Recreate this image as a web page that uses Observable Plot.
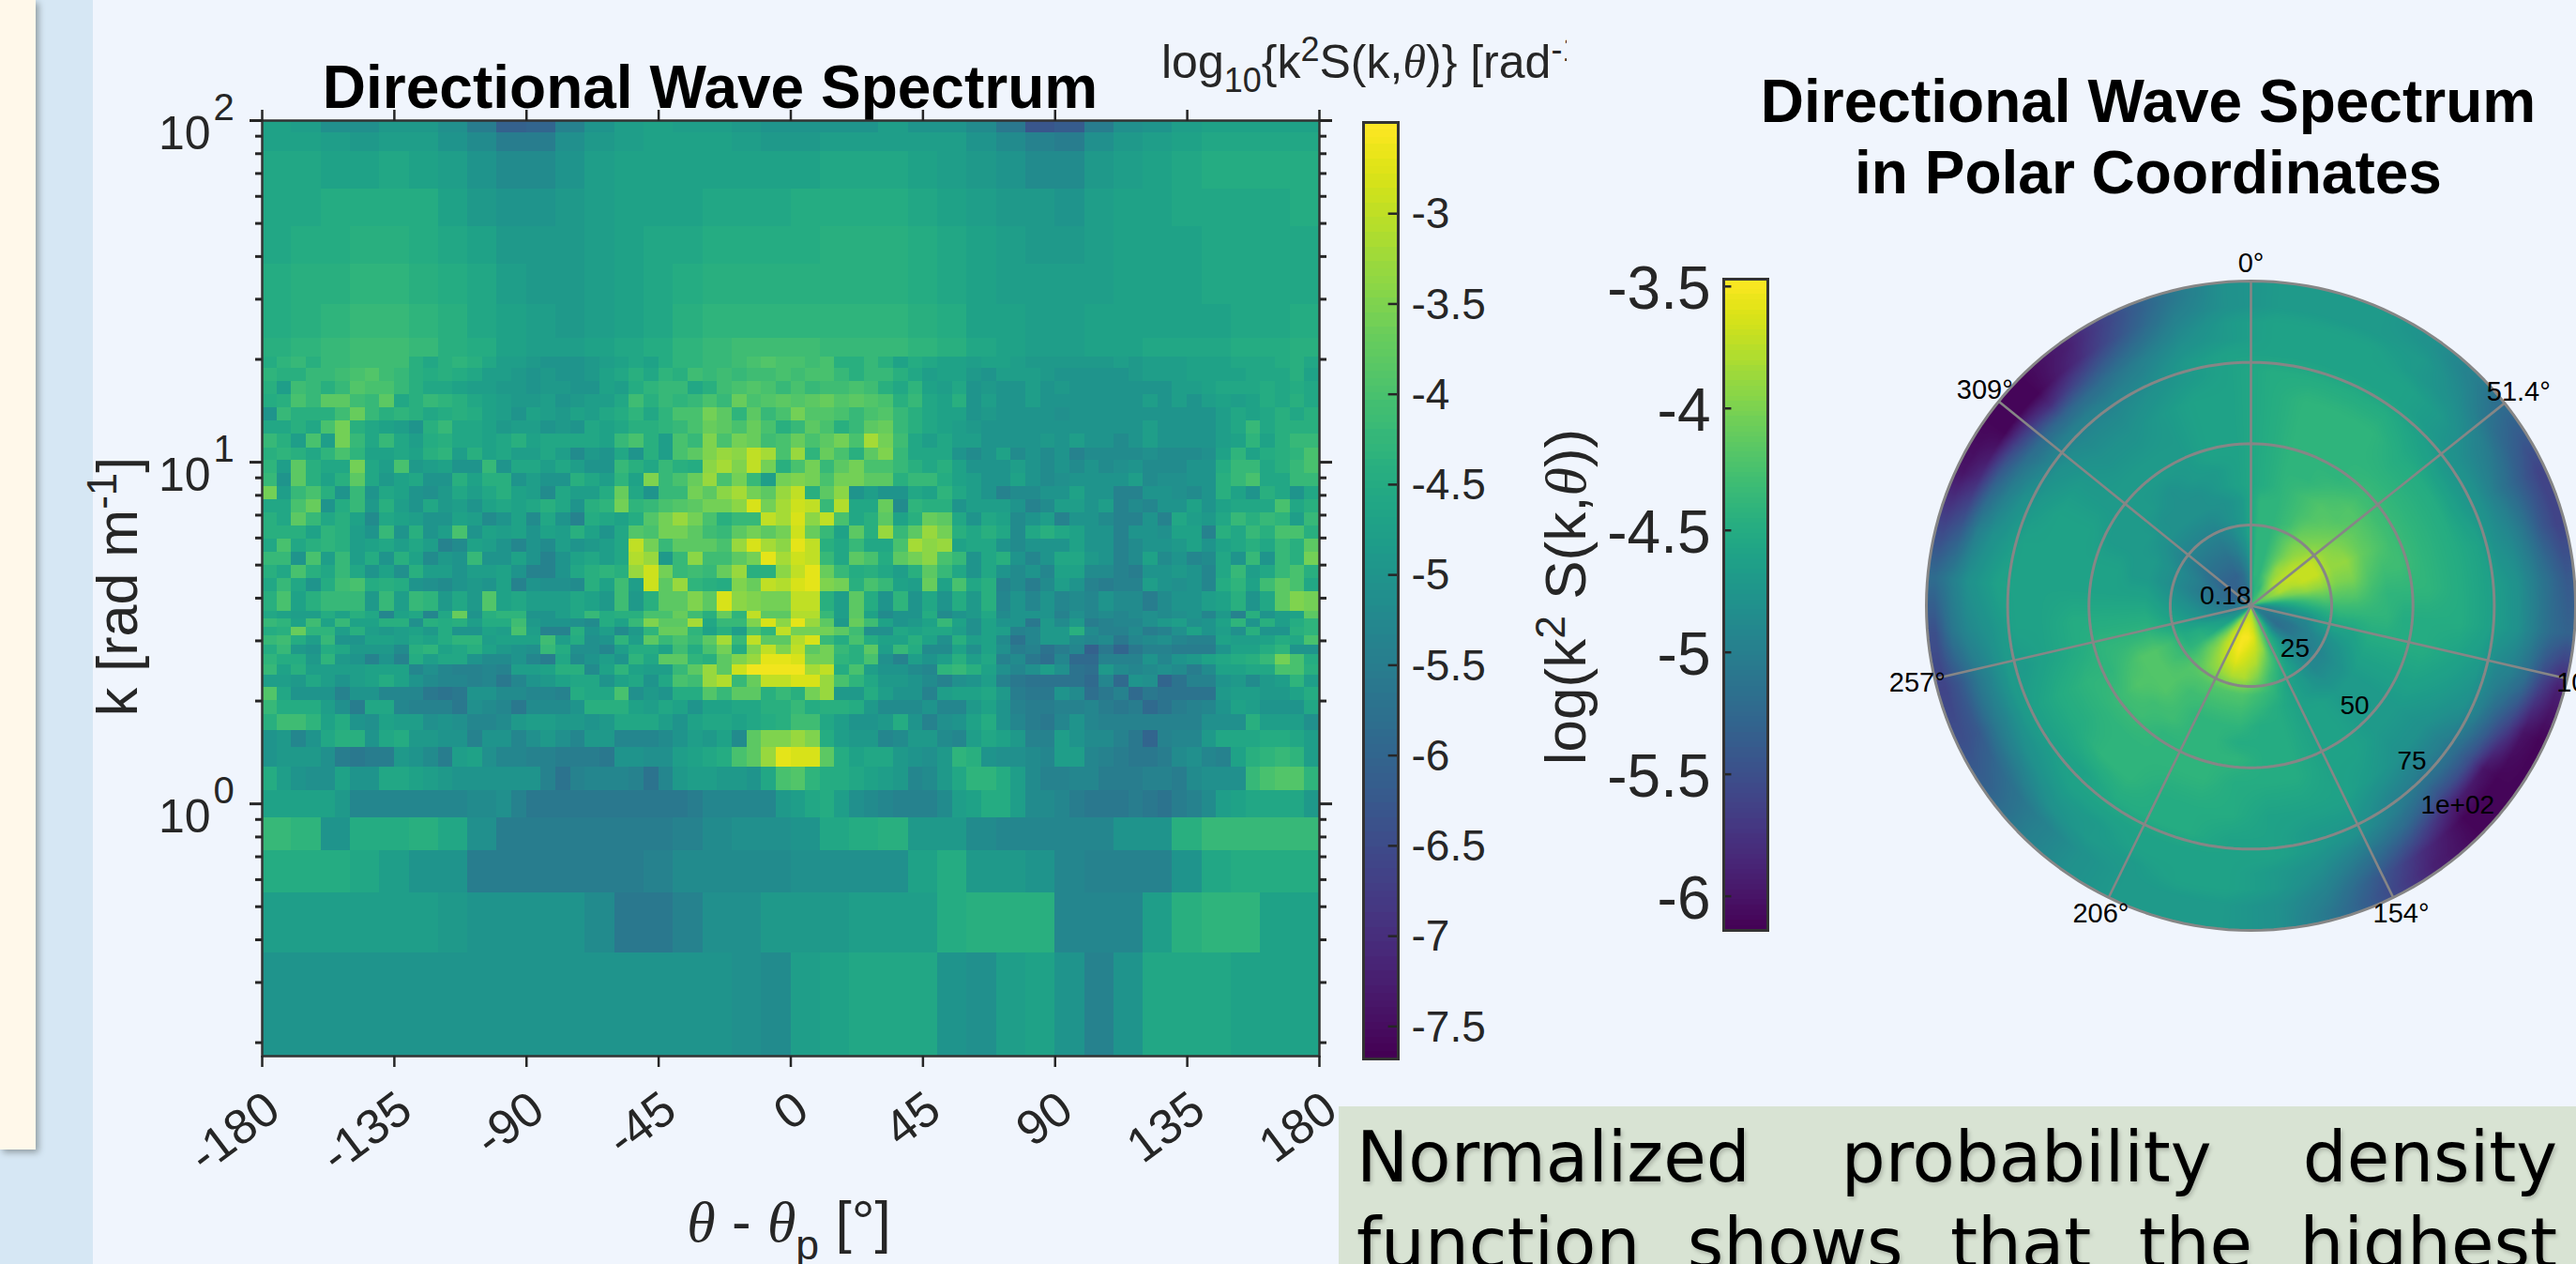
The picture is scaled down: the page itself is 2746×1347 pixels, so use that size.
<!DOCTYPE html>
<html><head><meta charset="utf-8">
<script src="https://cdn.jsdelivr.net/npm/d3@7"></script>
<script src="https://cdn.jsdelivr.net/npm/@observablehq/plot@0.6"></script>
<style>
html,body{margin:0;padding:0;background:#F0F5FD}
#root{position:relative;width:2746px;height:1347px;overflow:hidden;background:#F0F5FD;font-family:"Liberation Sans",Arial,sans-serif;color:#262626}
#root>*{position:absolute}
#root svg{max-width:none}
.t{white-space:nowrap;line-height:1}
.b{font-weight:bold;color:#000;font-size:64px;text-align:center}
.i{font-family:"Liberation Serif",serif;font-style:italic}
sup,sub{font-size:72%;line-height:0}
sub{vertical-align:-0.42em}
#note div{position:absolute;left:19px;width:1280px;text-align:justify;text-align-last:justify;font:74px/92px "DejaVu Sans",sans-serif;color:#000;text-shadow:2px 3px 4px rgba(0,0,0,.18);white-space:normal}
</style></head><body><div id="root">
<div style="left:0;top:0;width:99px;height:1347px;background:#D6E7F4"></div>
<div style="left:0;top:0;width:38px;height:1225px;background:#FFF8EA;box-shadow:3px 3px 7px #8f9ba0"></div>
<div class="t b" style="left:207px;top:61px;width:1100px">Directional Wave Spectrum</div>
<div class="t" style="left:1238px;top:34px;width:432px;height:92px;overflow:hidden;font-size:50px;line-height:64px">log<sub>10</sub>{k<sup>2</sup>S(k,<span class="i">θ</span>)} [rad<sup>-1</sup>]</div>
<div class="t" id="kl" style="left:125px;top:625px;font-size:61px;transform:translate(-50%,-50%) rotate(-90deg)">k [rad m<sup>-1</sup>]</div>
<div class="t" id="tl" style="left:841px;top:1271px;font-size:62px;transform:translateX(-50%)"><span class="i">θ</span> - <span class="i">θ</span><sub>p</sub> [°]</div>
<div class="t" id="ll" style="left:1669px;top:636px;font-size:62px;transform:translate(-50%,-50%) rotate(-90deg)">log(k<sup>2</sup> S(k,<span class="i">θ</span>))</div>
<div class="t b" style="left:1740px;top:76px;width:1100px">Directional Wave Spectrum</div>
<div class="t b" style="left:1740px;top:152px;width:1100px">in Polar Coordinates</div>
<div id="note" style="left:1427px;top:1179px;width:1319px;height:168px;background:#D8E3D3;overflow:hidden">
<div style="top:8px">Normalized probability density</div>
<div style="top:100px">function shows that the highest</div>
</div>
</div>
<script>
const thetaTicks=[-180,-135,-90,-45,0,45,90,135,180];
const kMajor=[1,10,100];
const kExponent=[0,1,2];
const kMinor=[0.2,0.3,0.4,0.5,0.6,0.7,0.8,0.9,2,3,4,5,6,7,8,9,20,30,40,50,60,70,80,90];
const heatDomain=[-7.68,-2.495];
const heatBarTicks=[-3,-3.5,-4,-4.5,-5,-5.5,-6,-6.5,-7,-7.5];
const polarDomain=[-6.14,-3.47];
const polarBarTicks=[-3.5,-4,-4.5,-5,-5.5,-6];
// k edges of the rows below (rad/m)
const kEdges=[0.1826,0.365,0.548,0.73,0.913,1.096,1.278,1.461,1.643,1.826,2.009,2.191,2.374,2.556,2.739,2.922,3.104,3.287,3.47,3.652,4.18,4.56,4.98,5.44,5.95,6.5,7.1,7.76,8.5,9.3,10.1,11,12.1,13.2,14.4,15.8,17.2,18.8,20.3,23,29,38,49,63,81,92,100];
// log10 spectrum in tenths, negated (47 = -4.7); each row spans -180..180
const heatRows=[
[50,50,50,50,50,50,50,50,50,50,50,50,50,50,50,50,51,52,48,47,46,46,46,50,51,48,47,50,54,50,46,46,46,47,47,47],
[48,48,48,48,48,48,49,50,50,50,50,52,56,56,54,51,51,49,49,49,48,48,48,45,44,44,44,53,53,53,48,44,43,43,47,47],
[45,45,45,46,48,50,50,55,55,55,55,55,55,54,52,52,52,52,51,51,51,51,47,45,49,49,50,53,54,54,54,50,46,45,45,45],
[42,43,50,45,45,44,46,51,55,55,55,55,55,55,54,52,51,51,50,46,45,44,49,49,52,53,53,53,53,50,50,44,42,42,42,42],
[47,47,47,47,47,49,53,53,53,53,53,53,53,53,52,52,51,54,56,56,56,56,56,56,56,56,56,56,56,55,53,53,53,53,53,49,48,46,45,48,51,52,53,54,54,54,52,48,47,45,45,48,52,52,53,55,56,56,56,55,56,57,55,54,52,48,47,46,46,46,46,49],
[45,48,50,51,51,47,50,50,46,46,47,48,49,50,50,50,50,50,50,54,57,54,53,53,53,54,57,53,49,48,48,49,49,50,46,40,39,43,45,45,46,47,48,49,53,52,49,46,43,43,45,48,52,54,54,53,53,55,55,55,54,54,55,52,51,51,51,42,40,39,39,43],
[50,49,49,49,51,55,56,55,55,49,50,52,55,48,47,51,53,53,54,54,55,55,55,56,50,50,51,51,48,47,46,45,40,38,33,27,28,28,38,45,47,46,46,49,50,51,49,43,44,50,51,51,52,53,48,48,53,54,55,56,56,55,52,51,53,54,47,44,43,42,43,48],
[50,49,53,50,46,44,44,50,46,45,49,49,50,50,54,50,50,53,51,49,51,53,49,49,53,53,53,52,50,48,49,47,52,38,35,35,33,35,45,48,49,49,53,52,49,49,52,53,48,46,47,49,54,54,48,50,52,52,54,56,60,54,53,53,49,46,46,46,45,45,46,48],
[44,41,41,43,47,45,50,51,47,48,48,51,50,51,53,53,52,49,48,48,49,49,50,49,46,46,46,48,50,47,46,46,47,46,45,44,41,41,46,48,50,50,49,45,50,54,51,50,47,45,50,53,55,56,53,50,53,54,54,54,54,54,54,54,51,51,51,44,48,48,48,51],
[42,45,45,45,48,51,55,46,46,53,54,54,54,56,51,52,53,56,52,52,52,50,44,44,44,47,48,46,47,50,47,47,46,46,44,44,42,45,44,44,45,49,52,52,52,50,53,53,49,47,50,54,55,55,54,54,53,55,56,55,59,57,55,54,53,50,47,48,50,50,50,46],
[39,46,50,50,50,54,50,50,53,53,53,56,57,56,50,50,52,52,53,53,54,45,46,46,40,51,49,50,45,45,39,42,38,38,44,42,44,36,33,49,49,45,48,50,50,54,48,47,47,46,49,55,56,56,50,52,58,56,54,59,56,57,57,57,57,49,48,48,49,49,47,45],
[48,48,49,46,48,50,48,47,45,47,50,52,53,53,54,53,56,53,50,49,47,46,46,50,47,46,50,46,40,41,33,31,42,37,30,30,28,28,33,40,43,46,49,49,50,52,54,51,50,48,54,56,57,57,57,57,59,53,59,50,51,60,57,54,54,50,49,52,49,48,43,48],
[42,47,44,48,48,48,48,47,47,47,53,51,53,54,54,53,54,48,48,47,44,44,52,47,43,47,48,48,42,38,33,38,29,26,26,26,26,32,30,45,40,48,50,50,52,53,43,42,44,47,51,53,51,48,51,57,58,49,52,53,52,51,52,55,52,47,47,46,46,40,40,44],
[43,45,45,49,43,49,50,54,50,54,45,48,46,46,50,52,52,50,53,55,46,52,50,48,50,43,46,38,38,43,44,38,35,33,27,27,28,36,36,43,44,40,51,54,48,50,48,44,48,46,54,52,56,58,53,59,59,54,54,54,50,53,50,49,47,46,45,44,42,36,40,45],
[45,42,49,50,45,46,49,49,49,52,44,43,47,46,44,47,49,50,51,42,45,51,51,53,48,45,45,47,41,45,40,36,45,35,30,35,30,38,36,42,44,38,48,42,45,52,52,47,51,47,51,55,54,57,55,53,61,56,60,56,54,54,55,55,55,50,47,47,45,43,50,50],
[42,41,45,48,42,50,50,47,47,48,46,47,45,43,43,48,47,47,47,41,48,45,51,50,43,48,38,42,40,42,38,32,42,30,38,38,31,28,42,45,40,45,47,47,44,47,51,44,48,47,52,57,53,49,49,52,53,52,56,53,52,51,53,54,54,47,48,48,47,45,46,40],
[45,44,37,43,43,48,44,48,49,48,47,49,45,50,50,47,48,40,48,54,54,44,50,48,52,49,43,37,37,43,47,44,48,40,43,30,36,36,36,38,41,51,51,46,47,46,46,48,51,47,48,54,53,49,49,44,52,54,54,52,55,54,51,47,50,48,51,44,50,50,44,43],
[42,43,47,41,47,42,47,47,44,44,51,44,45,44,48,45,45,41,49,50,50,51,52,45,47,42,35,38,38,32,46,42,42,35,28,34,27,33,38,49,37,41,47,50,49,47,42,47,51,47,50,50,56,49,52,49,55,54,53,53,51,49,48,51,50,47,43,50,44,48,45,43],
[46,47,48,48,45,47,44,46,53,47,46,53,46,37,50,44,43,43,50,50,48,46,42,45,44,44,40,40,37,41,44,37,43,30,38,38,31,31,42,48,38,47,52,50,50,45,52,50,49,46,52,50,50,50,54,51,53,52,53,52,51,52,51,50,53,49,54,44,50,48,47,38],
[44,40,47,44,42,42,42,49,42,48,42,43,49,46,49,39,47,46,48,48,48,46,47,49,41,49,44,38,38,35,38,28,34,35,36,36,30,30,44,48,38,45,50,43,50,46,50,45,49,44,53,50,53,50,53,52,53,50,52,52,55,52,50,50,48,47,44,50,46,38,35,36],
[46,42,46,50,45,41,40,45,44,45,50,51,52,50,49,50,47,54,50,51,51,52,44,47,41,48,29,38,33,43,44,45,35,37,30,31,28,27,35,36,44,40,42,47,48,37,47,40,46,44,54,52,55,52,48,50,54,55,54,54,48,50,51,50,53,45,43,47,41,38,40,46],
[44,46,40,44,46,42,46,50,47,51,44,48,48,50,48,48,47,50,54,54,50,46,44,43,44,33,29,36,42,41,42,37,33,44,44,34,30,27,37,42,45,44,46,48,44,38,42,46,50,46,50,52,50,53,47,47,52,52,54,55,50,50,49,50,53,46,42,48,46,42,40,44],
[42,42,50,40,48,42,48,45,50,44,47,52,49,50,42,50,50,47,50,54,50,47,46,48,46,31,33,49,42,34,41,41,38,36,27,32,29,30,42,46,38,40,45,38,36,34,40,42,50,46,44,50,53,50,46,46,49,50,54,52,47,52,50,53,52,46,50,42,50,42,44,36],
[46,40,46,44,43,44,48,47,46,48,46,48,54,52,47,48,50,53,50,52,48,50,49,48,46,30,36,42,38,38,38,40,33,28,32,34,27,30,44,46,42,46,46,40,32,34,33,47,46,46,50,52,50,50,50,47,50,50,54,52,50,50,49,47,50,47,46,44,46,42,44,38],
[44,44,44,47,43,44,48,50,42,50,44,50,48,40,50,47,48,47,50,47,48,44,47,50,46,39,40,36,36,38,41,42,38,36,38,36,29,37,42,47,38,44,33,42,38,33,36,44,46,44,46,52,46,44,46,47,50,50,54,50,50,51,47,47,54,44,46,42,44,40,40,44],
[44,46,38,42,46,44,47,52,46,47,48,50,50,47,48,52,50,47,52,46,50,54,45,46,47,45,39,36,33,36,40,44,42,42,30,32,28,34,30,40,46,44,38,47,44,37,38,46,50,46,47,52,50,48,54,50,50,52,54,54,50,54,46,48,49,46,42,44,42,43,48,42],
[46,46,40,37,50,45,42,49,44,48,50,46,49,48,50,47,46,47,46,44,46,50,44,43,36,43,42,40,39,38,36,36,34,28,36,32,29,30,42,31,46,46,37,52,43,44,44,50,48,48,48,50,54,52,48,48,50,48,54,52,53,50,50,47,50,47,46,46,46,40,46,44],
[36,48,42,40,44,50,42,50,46,47,50,51,49,46,48,46,44,47,48,52,46,48,48,45,37,46,50,42,42,36,38,34,32,36,38,33,30,44,38,34,50,48,50,50,46,47,43,46,48,50,54,52,52,50,50,47,50,50,54,54,50,50,51,52,50,44,47,50,44,46,50,46],
[42,50,38,44,47,44,38,46,49,47,46,50,50,44,47,44,44,50,48,50,50,44,46,48,43,47,35,42,40,37,33,40,36,42,48,36,35,36,40,36,36,38,38,44,42,42,45,47,48,50,50,47,50,52,51,50,50,50,50,48,52,51,51,50,50,44,42,40,46,46,42,42],
[43,48,38,44,46,46,36,46,48,40,49,48,47,50,50,42,50,46,46,48,46,48,50,50,42,44,46,42,44,45,34,32,35,30,36,44,40,36,42,38,36,40,40,42,44,46,44,47,50,50,50,48,50,52,50,52,50,52,51,50,52,52,52,50,50,45,42,42,46,44,42,40],
[44,43,44,46,43,40,43,47,47,46,47,44,43,48,44,47,46,48,48,46,48,52,49,50,46,50,44,48,40,38,35,33,34,30,32,40,33,43,37,40,44,38,35,42,46,46,46,50,52,50,47,52,50,52,50,54,52,52,52,52,51,52,52,52,51,47,43,47,45,44,43,40],
[42,44,48,40,48,36,42,46,42,46,48,45,44,46,46,47,46,44,47,46,46,46,46,47,42,40,44,48,40,42,35,40,36,37,41,40,37,40,38,36,40,32,36,41,46,48,46,48,48,50,50,50,50,49,50,48,50,50,52,50,48,50,50,50,50,48,47,43,47,44,42,42],
[46,46,44,46,40,36,44,46,47,48,50,44,42,46,46,47,49,48,48,50,49,50,46,47,46,44,44,43,42,40,37,38,40,37,40,44,42,38,40,44,42,38,37,42,44,46,47,48,49,50,50,50,50,50,50,50,50,50,50,50,48,50,50,50,50,48,46,42,46,44,44,44],
[50,42,44,44,44,41,37,42,44,43,44,46,45,44,45,47,48,50,47,48,49,47,48,46,45,43,46,43,40,40,36,38,43,38,42,40,36,39,39,40,42,40,39,42,44,46,47,47,50,49,50,50,50,50,51,50,50,50,50,50,50,50,50,50,50,48,46,47,46,44,46,44],
[45,44,40,42,38,38,41,42,38,46,44,42,43,44,46,47,48,49,49,48,50,49,48,48,46,41,44,42,43,42,40,42,37,40,39,38,39,38,37,39,38,39,40,44,42,46,47,44,50,48,50,50,48,50,50,50,50,50,50,50,48,50,48,50,48,47,48,47,45,46,44,46],
[44,48,41,42,44,42,39,40,40,42,44,46,46,47,48,48,49,49,50,49,49,50,50,47,48,45,43,42,42,46,44,41,40,39,40,42,40,42,41,41,40,41,44,46,43,47,48,46,50,49,50,50,48,50,49,50,50,50,50,50,50,50,48,48,47,46,46,46,45,46,45,46],
[43,44,44,42,42,41,40,39,41,42,44,45,44,45,46,48,48,49,50,49,50,50,49,47,46,44,46,43,44,41,42,41,42,41,41,40,41,40,40,42,44,42,42,44,46,48,47,47,49,50,48,48,48,49,50,50,50,50,50,49,48,48,48,47,47,47,47,46,46,46,44,47],
[45,43,42,44,42,42,41,41,41,41,44,46,44,43,44,46,48,48,49,50,50,50,49,48,47,46,47,45,43,43,42,42,41,40,39,40,40,41,40,44,44,42,44,47,45,46,47,47,48,47,47,48,49,49,49,49,49,49,48,49,48,48,48,47,47,47,46,46,46,45,44,46],
[44,43,42,41,41,42,44,45,47,48,48,47,46,45,43,42,41,41,41,42,42,42,43,44,46,47,48,48,47,47,46,46,46,45,45,44],
[45,44,43,42,42,43,44,46,47,48,49,48,47,46,44,43,43,43,43,43,43,43,44,45,47,47,48,48,47,47,47,47,47,46,46,45],
[45,44,44,43,43,44,45,46,48,49,49,48,47,46,45,44,44,44,44,44,44,44,45,46,47,48,48,48,48,47,47,47,46,46,46,46],
[46,45,45,44,44,45,46,47,49,49,49,48,47,46,46,45,45,45,45,44,44,44,45,46,47,48,49,49,48,47,47,47,46,46,46,46],
[46,46,45,45,45,45,47,49,50,50,49,48,47,47,47,46,46,46,45,45,45,45,46,47,48,49,49,50,48,47,47,46,46,46,46,45],
[46,46,47,47,46,47,48,50,52,52,50,48,47,47,47,47,47,47,47,46,46,46,47,48,49,50,52,52,49,48,47,46,45,45,45,45],
[47,47,48,49,48,48,50,52,55,55,51,49,48,47,47,47,48,49,49,48,48,48,48,48,50,52,54,55,51,49,48,47,46,46,46,46],
[47,48,51,51,49,49,51,55,61,60,54,50,48,47,48,48,49,50,50,50,50,48,50,50,52,56,63,62,55,51,50,48,47,47,47,47]
];
// polar panel: radius edges in k, then rows over 36 sectors clockwise from 0 degrees
const polarEdges=[0,4,8,12,16,20,25,30,35,40,45,50,60,70,75,80,85,90,95,100.1];
const polarRows=[
[46,44,43,43,42,42,42,44,47,49,50,50,50,48,45,42,40,38,38,38,39,42,46,48,49,50,50,50,50,52,52,52,52,52,50,48],
[45,44,44,42,41,40,40,42,46,49,50,51,51,49,45,42,39,37,36,36,37,39,43,47,48,50,51,51,52,53,53,53,53,52,52,50],
[44,44,42,40,38,38,38,41,45,48,50,51,52,50,46,43,39,36,35,35,36,38,42,46,47,49,50,51,52,52,53,53,53,53,52,50],
[44,44,42,39,38,37,38,40,44,47,49,51,51,49,46,44,39,37,36,35,36,38,41,45,46,48,49,50,51,51,52,52,52,52,51,49],
[44,44,42,40,38,37,37,39,43,46,49,50,50,49,47,44,41,38,37,36,37,39,41,44,45,47,48,49,50,50,51,51,51,51,50,48],
[44,44,42,40,39,37,37,39,42,45,47,49,50,49,47,45,43,40,38,38,39,40,42,44,45,46,47,48,49,49,50,50,50,50,49,47],
[44,44,43,41,40,39,39,40,42,44,46,48,49,49,47,46,44,43,42,42,42,42,42,43,43,45,46,47,48,48,49,49,49,49,48,47],
[44,44,43,42,41,40,39,40,42,44,46,47,48,48,47,46,45,44,43,43,43,43,42,42,42,44,45,46,47,47,48,48,48,48,48,47],
[45,44,43,42,42,41,41,42,43,44,45,46,47,47,46,46,45,45,44,44,44,43,42,42,42,44,45,46,47,47,47,48,48,48,47,46],
[45,44,44,43,42,42,42,43,44,44,45,46,47,47,46,46,45,45,45,44,44,43,43,42,43,44,45,46,46,47,47,47,48,47,47,46],
[45,44,44,44,43,43,43,43,44,45,45,46,47,47,46,46,45,45,44,44,44,44,43,43,44,44,45,46,46,47,47,47,47,47,46,46],
[45,44,44,44,44,44,44,44,44,45,45,46,47,47,46,46,45,45,45,44,44,44,44,44,44,45,45,46,46,46,47,47,47,47,46,46],
[45,44,44,44,45,45,45,45,45,45,46,47,48,48,47,46,46,46,45,45,45,44,44,45,45,46,46,46,46,46,47,48,48,47,46,46],
[45,45,45,45,46,47,47,46,46,46,47,48,50,50,49,47,47,46,46,45,45,45,46,46,46,47,46,46,46,47,48,49,49,48,47,46],
[46,46,46,46,47,48,48,48,47,47,49,50,52,52,50,48,47,46,46,46,46,46,46,47,47,47,47,46,47,48,50,50,50,49,47,46],
[46,46,46,46,47,49,50,49,48,48,50,53,55,55,52,50,48,47,46,46,46,47,47,48,49,49,48,47,48,50,52,53,52,50,48,47],
[46,46,46,47,48,50,52,51,50,50,52,56,60,59,55,52,49,47,46,46,47,47,48,50,51,51,49,48,50,53,56,58,55,52,49,47],
[47,47,47,47,49,52,54,54,52,52,56,60,61,61,58,54,50,48,47,47,47,48,50,52,54,54,51,50,54,58,61,61,58,54,50,48],
[47,47,47,48,50,53,56,56,54,53,59,61,61,61,59,55,51,48,47,47,47,48,50,53,55,56,55,52,56,60,61,61,59,55,51,48]
];
const ringValues=[25,50,75,100];
const ringText=["25","50","75","1e+02"];
const ringTextAt=[19,44.5,69,88.5];
const spokeAngles=[0,51.4,103,154,206,257,309];
const spokeText=["0°","51.4°","103°","154°","206°","257°","309°"];

const root=document.getElementById("root");
const place=(svg,left,top)=>{svg.style.position="absolute";svg.style.left=left+"px";svg.style.top=top+"px";root.appendChild(svg);};
const base={background:"none",fontFamily:"Liberation Sans, Arial, sans-serif",color:"#262626",overflow:"visible"};
const ink="#262626";

// ---- cartesian spectrum
const cells=heatRows.flatMap((row,r)=>row.map((v,c)=>({t1:-180+c*360/row.length,t2:-180+(c+1)*360/row.length,k1:kEdges[r],k2:kEdges[r+1],v:-v/10})));
place(Plot.plot({
  width:1500,height:1347,marginLeft:279,marginRight:94,marginTop:128,marginBottom:222,style:base,
  x:{domain:[-180,180],axis:null},
  y:{type:"log",domain:[0.1826,100],axis:null},
  color:{type:"linear",scheme:"viridis",domain:heatDomain},
  marks:[
    Plot.rect(cells,{x1:"t1",x2:"t2",y1:"k1",y2:"k2",fill:"v",shapeRendering:"crispEdges"}),
    Plot.frame({stroke:"#333",strokeWidth:2.5}),
    Plot.axisX({anchor:"top",ticks:thetaTicks,tickSize:12,fill:"none",label:null,stroke:ink,strokeWidth:2.5}),
    Plot.axisX({anchor:"bottom",ticks:thetaTicks,tickSize:12,fill:"none",label:null,stroke:ink,strokeWidth:2.5}),
    Plot.axisX({anchor:"bottom",ticks:thetaTicks,tickSize:0,tickRotate:-37,fontSize:52,tickPadding:50,dx:12,label:null,tickFormat:d=>String(d),fill:ink}),
    Plot.axisY({anchor:"left",ticks:kMajor,tickSize:13,fill:"none",label:null,stroke:ink,strokeWidth:3}),
    Plot.axisY({anchor:"left",ticks:kMinor,tickSize:7,fill:"none",label:null,stroke:ink,strokeWidth:3}),
    Plot.axisY({anchor:"right",ticks:kMajor,tickSize:13,fill:"none",label:null,stroke:ink,strokeWidth:3}),
    Plot.axisY({anchor:"right",ticks:kMinor,tickSize:7,fill:"none",label:null,stroke:ink,strokeWidth:3}),
    Plot.text(kMajor,{x:()=>-180,y:d=>d,text:()=>"10",textAnchor:"end",dx:-55,dy:14,fontSize:50,fill:ink}),
    Plot.text(kMajor,{x:()=>-180,y:d=>d,text:(d,i)=>String(kExponent[i]),textAnchor:"start",dx:-52,dy:-13,fontSize:40,fill:ink})
  ]
}),0,0);

// ---- colour bars
function bar(domain,ticks,o){
  const step=(domain[1]-domain[0])/128;
  const levels=d3.range(128).map(i=>domain[0]+i*step);
  place(Plot.plot({
    width:o.w,height:o.h,marginLeft:o.ml,marginRight:o.w-o.ml-o.bw,marginTop:o.top,marginBottom:o.h-o.bottom,style:base,
    x:{domain:[0,1],axis:null},y:{domain,axis:null},
    color:{type:"linear",scheme:"viridis",domain},
    marks:[
      Plot.rect(levels,{x1:()=>0,x2:()=>1,y1:d=>d,y2:d=>d+step,fill:d=>d+step/2,shapeRendering:"crispEdges"}),
      Plot.ruleY(ticks,{x1:()=>o.t1,x2:()=>o.t2,stroke:ink,strokeWidth:2.5}),
      Plot.frame({stroke:"#333",strokeWidth:3}),
      Plot.axisY({anchor:o.anchor,ticks,tickSize:0,tickPadding:o.pad,fontSize:o.fs,dy:o.dy,label:null,tickFormat:d=>String(d),fill:ink})
    ]
  }),o.left,0);
}
bar(heatDomain,heatBarTicks,{left:1400,w:400,h:1200,ml:53,bw:37,top:130,bottom:1128,t1:0.72,t2:1,anchor:"right",pad:14,fs:46,dy:1});
bar(polarDomain,polarBarTicks,{left:1680,w:250,h:1100,ml:157,bw:47,top:297,bottom:991,t1:0,t2:0.18,anchor:"left",pad:14,fs:64,dy:3});

// ---- polar spectrum
const R=346,halfPx=400,D=halfPx*99.82/R;
const at=(k,a)=>{const r=k-0.18,t=a*Math.PI/180;return {x:r*Math.sin(t),y:r*Math.cos(t)};};
const centres=polarRows.map((_,i)=>(polarEdges[i]+polarEdges[i+1])/2);
const lookup=(x,y)=>{
  const k=Math.hypot(x,y)+0.18;
  const a=(Math.atan2(x,y)*180/Math.PI+360)%360;
  const hi=Math.max(1,Math.min(d3.bisectRight(centres,k),centres.length-1));
  const f=Math.max(0,Math.min(1,(k-centres[hi-1])/(centres[hi]-centres[hi-1])));
  const u=a/10-0.5,s0=Math.floor(u),g=u-s0,s1=(s0+1)%36,s=(s0+36)%36;
  const val=r=>polarRows[r][s]*(1-g)+polarRows[r][s1]*g;
  return -(val(hi-1)*(1-f)+val(hi)*f)/10;
};
const ringPts=ringValues.flatMap(k=>d3.range(0,361,2).map(a=>({k,...at(k,a)})));
const spokes=spokeAngles.map(a=>({from:at(0.18,a),to:at(100,a)}));
place(Plot.plot({
  width:800,height:800,margin:0,style:base,
  x:{domain:[-D,D],axis:null},y:{domain:[-D,D],axis:null},
  color:{type:"linear",scheme:"viridis",domain:polarDomain},
  marks:[
    Plot.raster({x1:-D,x2:D,y1:-D,y2:D,pixelSize:1,fill:lookup,fillOpacity:(x,y)=>Math.hypot(x,y)<=99.82?1:0}),
    Plot.link(spokes,{x1:d=>d.from.x,y1:d=>d.from.y,x2:d=>d.to.x,y2:d=>d.to.y,stroke:"#868686",strokeWidth:2.6}),
    Plot.line(ringPts,{x:"x",y:"y",z:"k",stroke:"#868686",strokeWidth:3}),
    Plot.text(spokeAngles,{x:a=>at(105.5,a).x,y:a=>at(105.5,a).y,text:(a,i)=>spokeText[i],fontSize:29,fill:"#000"}),
    Plot.text(ringValues,{x:(k,i)=>at(ringTextAt[i],134).x,y:(k,i)=>at(ringTextAt[i],134).y,text:(k,i)=>ringText[i],fontSize:28,fill:"#000"}),
    Plot.text([0.18],{x:()=>0,y:()=>0,text:()=>"0.18",textAnchor:"end",dy:-10,fontSize:28,fill:"#000"})
  ]
}),1999,245);
</script></body></html>
